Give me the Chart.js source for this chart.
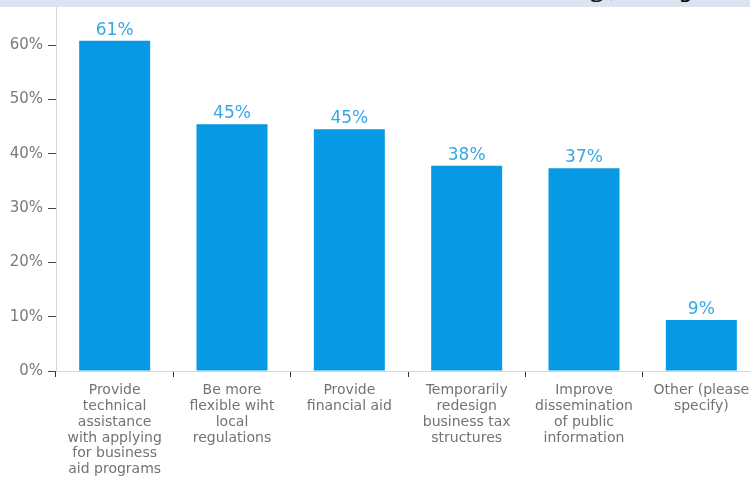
<!DOCTYPE html>
<html>
<head>
<meta charset="utf-8">
<script src="https://cdn.jsdelivr.net/npm/chart.js@4.4.1/dist/chart.umd.min.js"></script>
<style>
  html, body {
    margin: 0;
    padding: 0;
    width: 750px;
    height: 479px;
    overflow: hidden;
    background: #ffffff;
  }

  .band {
    position: absolute;
    left: 0;
    top: 0;
    width: 750px;
    height: 7px;
    background: #dbe5f1;
    overflow: hidden;
    z-index: 2;
  }

  .band span {
    position: absolute;
    top: -29px;
    font-family: "DejaVu Serif", serif;
    font-style: italic;
    font-size: 30px;
    line-height: 30px;
    color: #111;
  }

  .wrap {
    position: absolute;
    left: 0;
    top: 7px;
    width: 770px;
    height: 472px;
  }
</style>
</head>
<body>

<div class="band">
  <span style="left: 590px;">g,</span>
  <span style="left: 682px;">y</span>
</div>

<div class="wrap">
  <canvas id="barChart"></canvas>
</div>

<script>
// =====================================================
// DATA
// =====================================================

const categories = [
  ["Provide", "technical", "assistance", "with applying", "for business", "aid programs"],
  ["Be more", "flexible wiht", "local", "regulations"],
  ["Provide", "financial aid"],
  ["Temporarily", "redesign", "business tax", "structures"],
  ["Improve", "dissemination", "of public", "information"],
  ["Other (please", "specify)"]
];

const shares = [60.8, 45.4, 44.5, 37.8, 37.3, 9.4];

const shareLabels = ["61%", "45%", "45%", "38%", "37%", "9%"];

const yTicks = [0, 10, 20, 30, 40, 50, 60];

const FONT = "'DejaVu Sans', sans-serif";

// =====================================================
// VALUE LABELS
// =====================================================

const valueLabels = {

  id: "valueLabels",

  afterDatasetsDraw(chart) {

    const ctx = chart.ctx;

    const meta = chart.getDatasetMeta(0);

    ctx.save();

    ctx.font = `17px ${FONT}`;
    ctx.fillStyle = "#36a7e6";
    ctx.textAlign = "center";
    ctx.textBaseline = "bottom";

    meta.data.forEach((bar, i) => {

      ctx.fillText(
        shareLabels[i],
        bar.x,
        bar.y - 2
      );
    });

    ctx.restore();
  }
};

// =====================================================
// CHART
// =====================================================

new Chart(
  document.getElementById("barChart"),
  {

    type: "bar",

    data: {

      labels: categories,

      datasets: [
        {
          data: shares,

          backgroundColor: "#0899e4",

          categoryPercentage: 1,

          barPercentage: 0.605
        }
      ]
    },

    options: {

      responsive: true,

      maintainAspectRatio: false,

      animation: false,

      layout: {
        padding: { left: 0, right: 10, top: 0, bottom: 0 }
      },

      plugins: {
        legend: { display: false },
        tooltip: { enabled: false }
      },

      scales: {

        x: {

          grid: {
            display: true,
            drawOnChartArea: false,
            drawTicks: true,
            tickLength: 6,
            color: "#333333",
            offset: true
          },

          border: {
            display: true,
            color: "#d6d6d6",
            width: 1
          },

          ticks: {
            color: "#737373",
            font: { family: FONT, size: 14, lineHeight: 1.12 },
            padding: 6,
            maxRotation: 0,
            autoSkip: false
          },

          afterFit(scale) {
            scale.height = 108;
          }
        },

        y: {

          min: 0,

          max: 67,

          grid: {
            display: true,
            drawOnChartArea: false,
            drawTicks: true,
            tickLength: 8,
            color: "#444444"
          },

          border: {
            display: true,
            color: "#d6d6d6",
            width: 1
          },

          afterBuildTicks(scale) {
            scale.ticks = yTicks.map(v => ({ value: v }));
          },

          ticks: {
            color: "#7a7a7a",
            font: { family: FONT, size: 15 },
            padding: 5,
            callback: v => v + "%"
          },

          afterFit(scale) {
            scale.width = 56;
            scale.paddingTop = 0;
            scale.paddingBottom = 0;
          }
        }
      }
    },

    plugins: [valueLabels]
  }
);
</script>
</body>
</html>
